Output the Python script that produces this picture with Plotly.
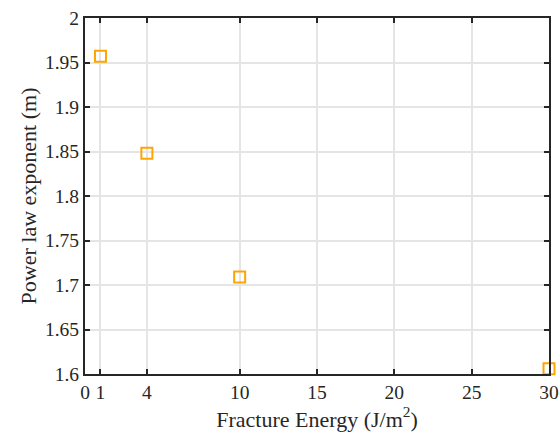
import plotly.graph_objects as go

fracture_energy = [1, 4, 10, 30]
power_exponent = [1.957, 1.848, 1.709, 1.606]
x_ticks = [0, 1, 4, 10, 15, 20, 25, 30]
y_ticks = [1.6, 1.65, 1.7, 1.75, 1.8, 1.85, 1.9, 1.95, 2.0]
y_tick_labels = ["1.6", "1.65", "1.7", "1.75", "1.8", "1.85", "1.9", "1.95", "2"]

FONT = "Liberation Serif, Times New Roman, Times, serif"

fig = go.Figure()
fig.add_trace(go.Scatter(
    x=fracture_energy, y=power_exponent, mode="markers",
    marker=dict(symbol="square-open", size=11, color="#FFA500", line=dict(width=2)),
    cliponaxis=False, showlegend=False,
))

axis_common = dict(
    showline=True, linecolor="#262626", linewidth=2, mirror="allticks",
    ticks="inside", ticklen=5, tickwidth=2, tickcolor="#262626",
    showgrid=True, gridcolor="#e5e5e5", gridwidth=1.5, zeroline=False,
    automargin=False,
    tickfont=dict(family=FONT, size=19.5, color="#262626"),
)

fig.update_xaxes(
    range=[0, 30], tickvals=x_ticks, ticktext=[str(v) for v in x_ticks],
    title=dict(text="Fracture Energy (J/m<sup>2</sup>)", standoff=2,
               font=dict(family=FONT, size=22, color="#262626")),
    **axis_common,
)
fig.update_yaxes(
    range=[1.6, 2.0], tickvals=y_ticks, ticktext=y_tick_labels,
    title=dict(text="Power law exponent (m)", standoff=2,
               font=dict(family=FONT, size=22, color="#262626")),
    **axis_common,
)

fig.update_layout(
    width=560, height=435,
    margin=dict(l=85, r=11, t=18, b=61),
    font=dict(family=FONT),
    plot_bgcolor="white", paper_bgcolor="white",
)

fig.write_html(
    "out.html",
    config={"displayModeBar": False},
    post_script="document.body.style.margin='0';document.body.style.overflow='hidden';",
)
